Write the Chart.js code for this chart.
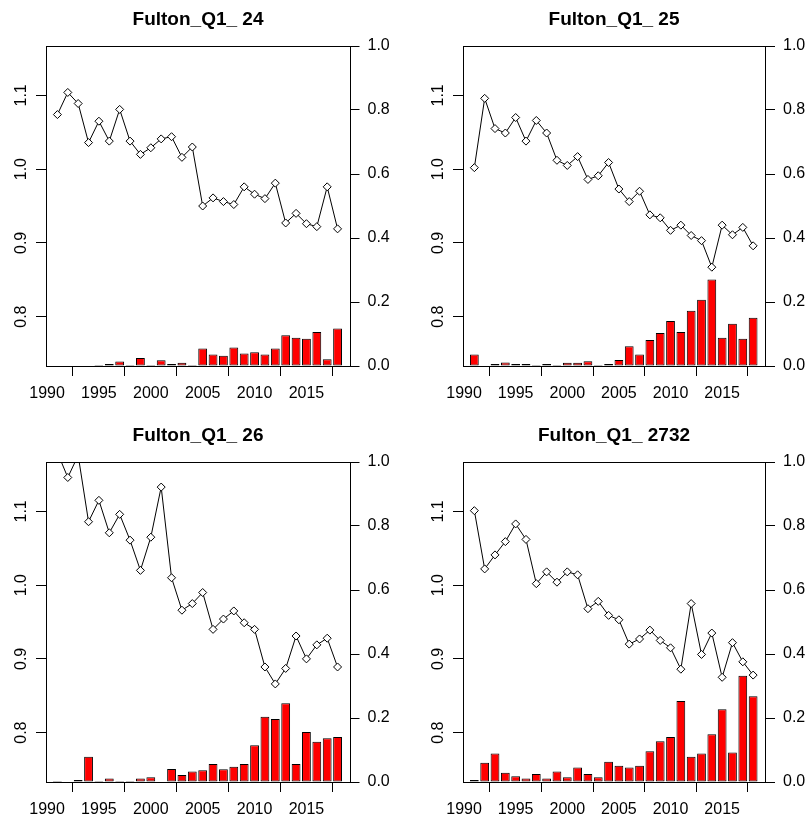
<!DOCTYPE html>
<html>
<head>
<meta charset="utf-8">
<script src="https://cdn.jsdelivr.net/npm/chart.js@4.4.1/dist/chart.umd.min.js"></script>
<style>
  html, body { margin: 0; padding: 0; background: #fff; width: 810px; height: 825px; overflow: hidden; }
  .panel { position: absolute; }
</style>
</head>
<body>
<div class="panel" style="left:0px;top:0px;width:396px;height:412px"><canvas id="c24"></canvas></div>
<div class="panel" style="left:420px;top:0px;width:388px;height:412px"><canvas id="c25"></canvas></div>
<div class="panel" style="left:0px;top:416px;width:396px;height:412px"><canvas id="c26"></canvas></div>
<div class="panel" style="left:420px;top:416px;width:388px;height:412px"><canvas id="c2732"></canvas></div>
<script>
// Survey years shared by every area
const years = [1991, 1992, 1993, 1994, 1995, 1996, 1997, 1998, 1999, 2000,
               2001, 2002, 2003, 2004, 2005, 2006, 2007, 2008, 2009, 2010,
               2011, 2012, 2013, 2014, 2015, 2016, 2017, 2018];

// Panel titles
const titles = ["Fulton_Q1_ 24", "Fulton_Q1_ 25", "Fulton_Q1_ 26", "Fulton_Q1_ 2732"];

// Mean Fulton condition factor (left axis)
const fulton24 = [1.074, 1.104, 1.089, 1.036, 1.065, 1.038, 1.081, 1.038, 1.020, 1.029,
                  1.041, 1.044, 1.016, 1.030, 0.950, 0.961, 0.956, 0.952, 0.976, 0.966,
                  0.960, 0.981, 0.927, 0.940, 0.926, 0.922, 0.976, 0.919];
const fulton25 = [1.002, 1.096, 1.055, 1.049, 1.070, 1.038, 1.066, 1.049, 1.012, 1.005,
                  1.017, 0.986, 0.991, 1.009, 0.973, 0.956, 0.970, 0.938, 0.934, 0.917,
                  0.924, 0.910, 0.903, 0.867, 0.924, 0.911, 0.921, 0.896];
const fulton26 = [1.180, 1.146, 1.176, 1.086, 1.115, 1.071, 1.096, 1.061, 1.020, 1.065,
                  1.133, 1.010, 0.966, 0.975, 0.990, 0.940, 0.954, 0.965, 0.949, 0.940,
                  0.889, 0.866, 0.887, 0.931, 0.900, 0.919, 0.928, 0.889];
const fulton2732 = [1.101, 1.022, 1.041, 1.059, 1.083, 1.062, 1.002, 1.018, 1.004, 1.018,
                    1.014, 0.968, 0.978, 0.959, 0.953, 0.920, 0.927, 0.939, 0.925, 0.915,
                    0.886, 0.975, 0.906, 0.935, 0.875, 0.922, 0.896, 0.878];

// Proportion of fish in poor condition (right axis, bars)
const share24 = [0, 0, 0, 0, 0.003, 0.006, 0.014, 0.003, 0.025, 0.003,
                 0.018, 0.006, 0.010, 0.003, 0.055, 0.036, 0.032, 0.058, 0.039, 0.043,
                 0.036, 0.055, 0.096, 0.088, 0.085, 0.106, 0.021, 0.117];
const share25 = [0.036, 0, 0.006, 0.011, 0.006, 0.006, 0.003, 0.006, 0.003, 0.010,
                 0.010, 0.015, 0.003, 0.006, 0.019, 0.062, 0.036, 0.081, 0.103, 0.141,
                 0.106, 0.173, 0.207, 0.270, 0.088, 0.132, 0.085, 0.151];
const share26 = [0.003, 0, 0.006, 0.079, 0.003, 0.011, 0.003, 0.003, 0.011, 0.015,
                 0, 0.041, 0.022, 0.033, 0.037, 0.056, 0.040, 0.048, 0.056, 0.115,
                 0.204, 0.197, 0.246, 0.056, 0.156, 0.126, 0.137, 0.141];
const share2732 = [0.006, 0.060, 0.089, 0.029, 0.018, 0.011, 0.025, 0.011, 0.033, 0.015,
                   0.045, 0.025, 0.015, 0.063, 0.051, 0.045, 0.051, 0.096, 0.127, 0.141,
                   0.253, 0.079, 0.089, 0.149, 0.227, 0.092, 0.332, 0.268];

// Tick positions
const xTicks = [1990, 1995, 2000, 2005, 2010, 2015];
const leftTicks = [0.8, 0.9, 1.0, 1.1];
const rightTicks = [0, 0.2, 0.4, 0.6, 0.8, 1.0];

const fultonSeries = [fulton24, fulton25, fulton26, fulton2732];
const shareSeries = [share24, share25, share26, share2732];
const canvasIds = ["c24", "c25", "c26", "c2732"];
// axis gutter widths for left and right columns
const gutters = [[46, 46.5], [43, 43], [46, 46.5], [43, 43]];

const FONT = '"Liberation Sans", Arial, Helvetica, sans-serif';

// draws the closed box around the plotting region
const frame = {
  id: 'frame',
  afterDraw(chart) {
    const a = chart.chartArea, ctx = chart.ctx;
    ctx.save();
    ctx.strokeStyle = '#000';
    ctx.lineWidth = 1;
    ctx.strokeRect(Math.round(a.left) + 0.5, Math.round(a.top) + 0.5,
                   Math.round(a.right - a.left), Math.round(a.bottom - a.top));
    ctx.restore();
  }
};

function tickGrid() {
  return { display: true, drawOnChartArea: false, drawTicks: true, tickLength: 10,
           tickColor: '#000', tickWidth: 1 };
}

function makeChart(i) {
  const toPts = arr => years.map((y, k) => ({ x: y, y: arr[k] }));
  const [gl, gr] = gutters[i];
  new Chart(document.getElementById(canvasIds[i]), {
    data: {
      datasets: [
        {
          type: 'line',
          data: toPts(fultonSeries[i]),
          yAxisID: 'yL',
          order: 0,
          borderColor: '#000',
          borderWidth: 1,
          pointStyle: 'rectRot',
          pointRadius: 4,
          pointBackgroundColor: '#fff',
          pointBorderColor: '#000',
          pointBorderWidth: 1,
          tension: 0
        },
        {
          type: 'bar',
          data: toPts(shareSeries[i]),
          yAxisID: 'yR',
          order: 1,
          backgroundColor: '#ff0000',
          borderColor: '#000',
          borderWidth: 1,
          borderSkipped: false,
          categoryPercentage: 1,
          barPercentage: 0.85
        }
      ]
    },
    options: {
      responsive: true,
      maintainAspectRatio: false,
      animation: false,
      devicePixelRatio: 1,
      layout: { padding: 0 },
      plugins: {
        legend: { display: false },
        tooltip: { enabled: false },
        title: {
          display: true,
          text: titles[i],
          color: '#000',
          font: { family: FONT, size: 19, weight: 'bold', lineHeight: 1.2 },
          padding: { top: 8, bottom: 15.2 }
        }
      },
      scales: {
        x: {
          type: 'linear',
          position: 'bottom',
          min: 1989.9,
          max: 2019.15,
          offset: false,
          border: { display: false },
          grid: tickGrid(),
          afterBuildTicks: s => { s.ticks = xTicks.map(v => ({ value: v })); },
          afterFit: s => { s.height = 46; },
          ticks: {
            color: '#000',
            font: { family: FONT, size: 16 },
            padding: 8,
            maxRotation: 0,
            callback: v => String(v)
          }
        },
        yL: {
          type: 'linear',
          position: 'left',
          min: 0.733,
          max: 1.167,
          border: { display: false },
          grid: tickGrid(),
          afterBuildTicks: s => { s.ticks = leftTicks.map(v => ({ value: v })); },
          afterFit: s => { s.width = gl; },
          ticks: {
            color: '#000',
            font: { family: FONT, size: 16 },
            padding: 3,
            minRotation: 90,
            maxRotation: 90,
            crossAlign: 'center',
            callback: v => Number(v).toFixed(1)
          }
        },
        yR: {
          type: 'linear',
          position: 'right',
          min: 0,
          max: 1,
          border: { display: false },
          grid: tickGrid(),
          afterBuildTicks: s => { s.ticks = rightTicks.map(v => ({ value: v })); },
          afterFit: s => { s.width = gr; },
          ticks: {
            color: '#000',
            font: { family: FONT, size: 16 },
            padding: 8,
            callback: v => Number(v).toFixed(1)
          }
        }
      }
    },
    plugins: [frame]
  });
}

for (let i = 0; i < 4; i++) makeChart(i);
</script>
</body>
</html>
